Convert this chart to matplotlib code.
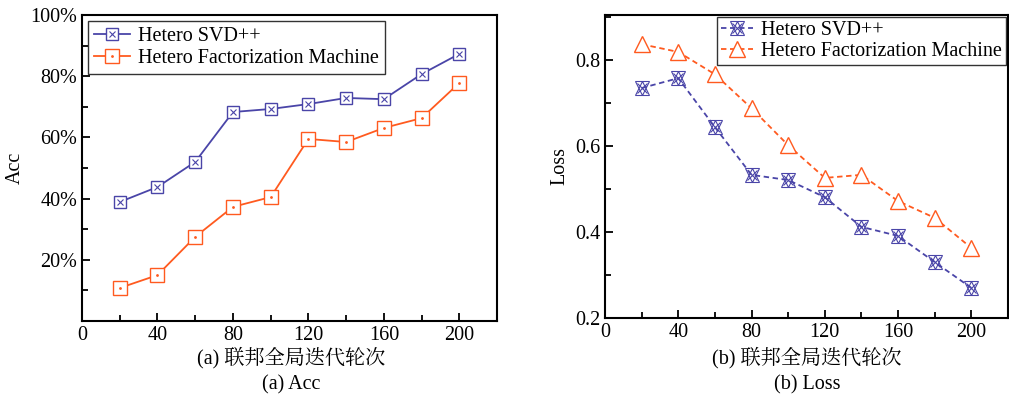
import numpy as np
import matplotlib.pyplot as plt
from matplotlib.ticker import MultipleLocator, PercentFormatter

plt.rcParams['font.family'] = ['Liberation Serif', 'Noto Serif CJK SC', 'Noto Sans CJK SC']
plt.rcParams['font.size'] = 14.5

# 数据
rounds = [20, 40, 60, 80, 100, 120, 140, 160, 180, 200]
acc_svd = [0.389, 0.438, 0.52, 0.683, 0.693, 0.709, 0.729, 0.725, 0.807, 0.873]
acc_fm = [0.108, 0.150, 0.275, 0.373, 0.405, 0.595, 0.585, 0.631, 0.663, 0.778]
loss_svd = [0.735, 0.758, 0.644, 0.533, 0.521, 0.481, 0.412, 0.391, 0.330, 0.270]
loss_fm = [0.837, 0.819, 0.767, 0.688, 0.602, 0.526, 0.533, 0.472, 0.433, 0.363]
names = ["Hetero SVD++", "Hetero Factorization Machine"]

blue = '#4a45a8'
orange = '#ff5a1f'

fig = plt.figure(figsize=(10.09, 4.01), dpi=100)
ax1 = fig.add_axes([0.0813, 0.1995, 0.4113, 0.763])
ax2 = fig.add_axes([0.5996, 0.207, 0.3994, 0.7556])

# (a) Acc
a1, = ax1.plot(rounds, acc_svd, '-', color=blue, lw=1.3, marker='s', ms=8,
               mfc='white', mec=blue, mew=1.0)
a2, = ax1.plot(rounds, acc_svd, 'x', color=blue, ms=5, mew=0.8)
b1, = ax1.plot(rounds, acc_fm, '-', color=orange, lw=1.3, marker='s', ms=10,
               mfc='white', mec=orange, mew=1.0)
b2, = ax1.plot(rounds, acc_fm, '.', color=orange, ms=2)
ax1.set_xlim(0, 220)
ax1.set_ylim(0, 1.0)
ax1.set_xticks([0, 40, 80, 120, 160, 200])
ax1.xaxis.set_minor_locator(MultipleLocator(20))
ax1.set_yticks([0.2, 0.4, 0.6, 0.8, 1.0])
ax1.yaxis.set_major_formatter(PercentFormatter(1.0, decimals=0))
ax1.yaxis.set_minor_locator(MultipleLocator(0.1))
ax1.set_ylabel("Acc")
ax1.legend([(a1, a2), (b1, b2)], names, loc='upper left', fancybox=False,
           edgecolor='black', borderaxespad=0.3, handlelength=1.8,
           borderpad=0.3, labelspacing=0.15, handletextpad=0.4)

# (b) Loss
c1, = ax2.plot(rounds, loss_svd, '--', color=blue, lw=1.3, dashes=(3, 2), marker='^',
               ms=10, mfc='none', mec=blue, mew=0.8)
c2, = ax2.plot(rounds, loss_svd, 'v', color=blue, ms=10, mfc='none', mew=0.8)
c3, = ax2.plot(rounds, loss_svd, 'x', color=blue, ms=7, mew=0.8)
d1, = ax2.plot(rounds, loss_fm, '--', color=orange, lw=1.3, dashes=(3, 2), marker='^',
               ms=11, mfc='white', mec=orange, mew=1.0)
ax2.set_xlim(0, 220)
ax2.set_ylim(0.2, 0.905)
ax2.set_xticks([0, 40, 80, 120, 160, 200])
ax2.xaxis.set_minor_locator(MultipleLocator(20))
ax2.set_yticks([0.2, 0.4, 0.6, 0.8])
ax2.yaxis.set_minor_locator(MultipleLocator(0.1))
ax2.set_ylabel("Loss")
ax2.legend([(c1, c2, c3), d1], names, loc='upper right', fancybox=False,
           edgecolor='black', borderaxespad=0.1, handlelength=1.6,
           borderpad=0.2, labelspacing=0.1, handletextpad=0.4)

for ax in (ax1, ax2):
    for s in ax.spines.values():
        s.set_linewidth(1.5)
    ax.tick_params(which='both', direction='in', width=1.3)
    ax.tick_params(which='major', length=6)
    ax.tick_params(which='minor', length=4)
    ax.tick_params(top=False, right=False)

fig.text(0.289, 0.107, "(a) 联邦全局迭代轮次", ha='center', va='center')
fig.text(0.289, 0.04, "(a) Acc", ha='center', va='center')
fig.text(0.80, 0.107, "(b) 联邦全局迭代轮次", ha='center', va='center')
fig.text(0.80, 0.04, "(b) Loss", ha='center', va='center')

fig.savefig("out.png", dpi=100)
